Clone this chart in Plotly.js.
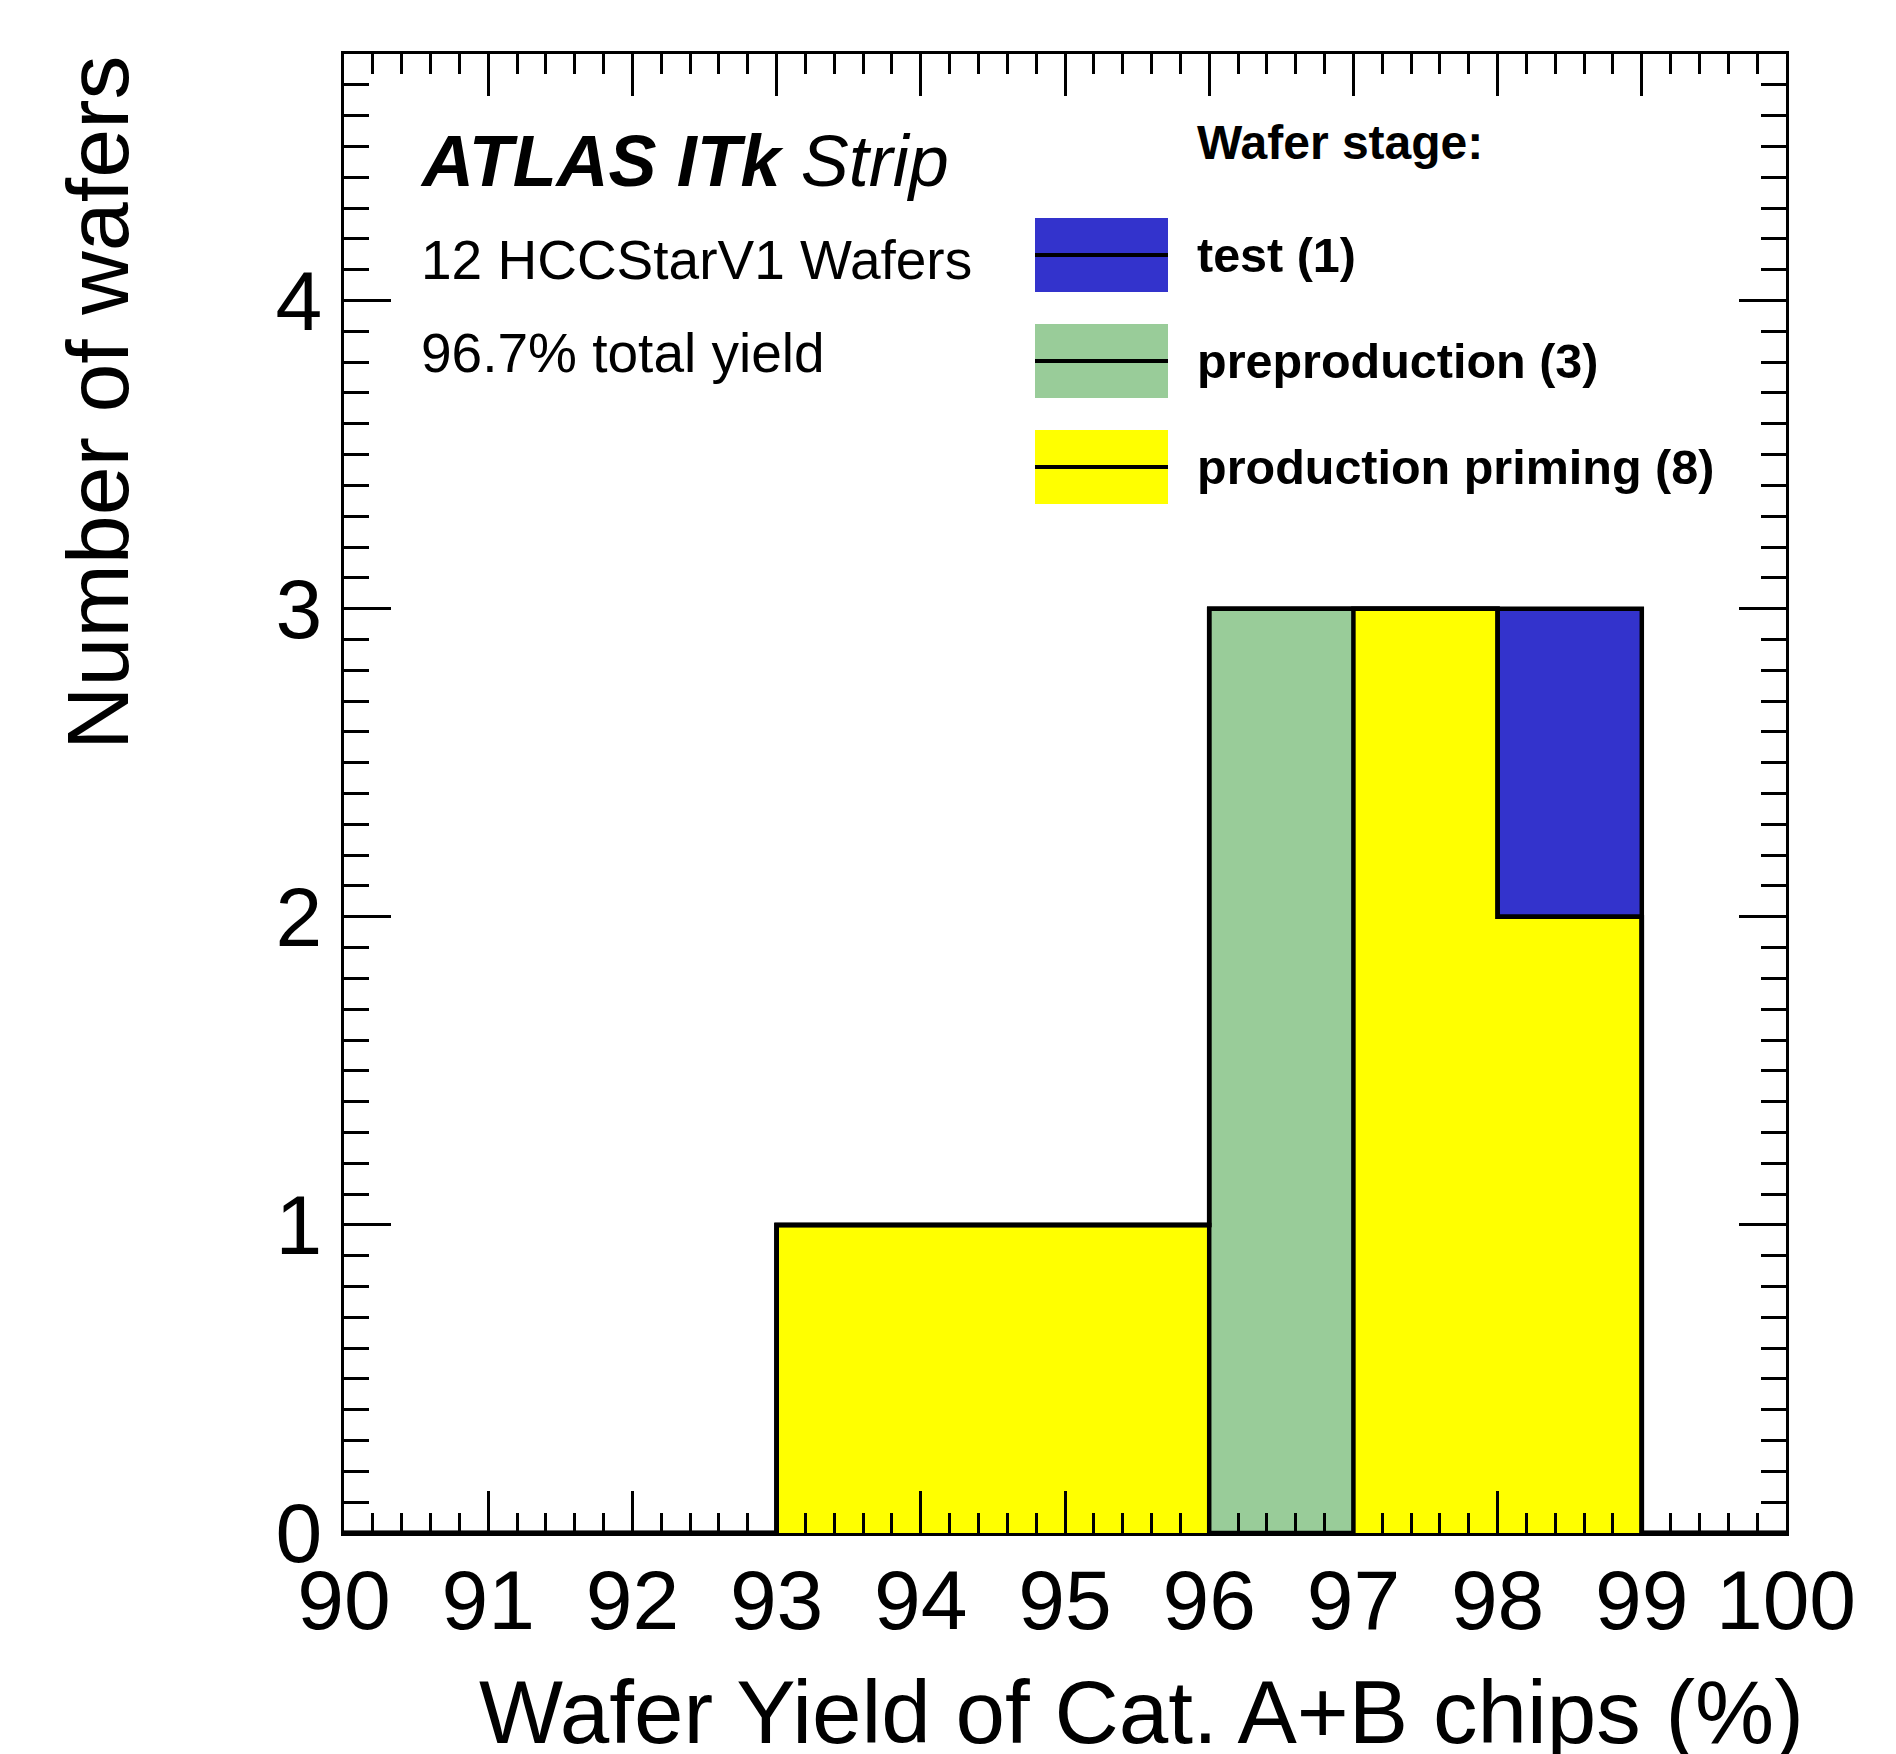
<!DOCTYPE html>
<html>
<head>
<meta charset="utf-8">
<script src="https://cdn.plot.ly/plotly-3.0.1.min.js"></script>
<style>html,body{margin:0;padding:0;background:#fff;}</style>
</head>
<body>
<div id="chart" style="width:1896px;height:1754px;"></div>
<script>
// ---- data (bin edges 90..100, width 1) ----
const binEdges = [90, 91, 92, 93, 94, 95, 96, 97, 98, 99, 100];
const stageNames = ["production priming", "preproduction", "test"]; // stacking order bottom -> top
const stageColors = ["#ffff00", "#99cc99", "#3333cc"];
const countsProductionPriming = [0, 0, 0, 1, 1, 1, 0, 3, 2, 0];
const countsPreproduction     = [0, 0, 0, 0, 0, 0, 3, 0, 0, 0];
const countsTest              = [0, 0, 0, 0, 0, 0, 0, 0, 1, 0];
const xTickValues = [90, 91, 92, 93, 94, 95, 96, 97, 98, 99, 100];
const yTickValues = [0, 1, 2, 3, 4];
const atlasLabel = "<b><i>ATLAS ITk</i></b> <i>Strip</i>";
const infoLines = ["12 HCCStarV1 Wafers", "96.7% total yield"];
const legendTitle = "Wafer stage:";
const xTitle = "Wafer Yield of Cat. A+B chips (%)";
const yTitle = "Number of wafers";

const stageCounts = [countsProductionPriming, countsPreproduction, countsTest];
const centers = binEdges.slice(0, -1).map((e, i) => (e + binEdges[i + 1]) / 2);

const traces = [];
// filled stacked bars
stageCounts.forEach((c, k) => {
  traces.push({
    type: "bar", x: centers, y: c, width: 1, name: stageNames[k],
    marker: {color: stageColors[k], line: {width: 0}},
    showlegend: false, hoverinfo: "skip"
  });
});
// step outlines of each cumulative stack (like ROOT THStack HIST)
let cum = new Array(centers.length).fill(0);
stageCounts.forEach((c, k) => {
  cum = cum.map((v, i) => v + c[i]);
  traces.push({
    type: "scatter", mode: "lines", x: binEdges, y: cum.concat([cum[cum.length - 1]]),
    line: {shape: "hv", color: "#000", width: 4.5},
    showlegend: false, hoverinfo: "skip", cliponaxis: false
  });
});

const font = "Liberation Sans, Arial, Helvetica, sans-serif";
const W = 1896, H = 1754;
const mL = 344, mR = 110, mT = 54, mB = 221;
const pw = W - mL - mR, ph = H - mT - mB;
const px = x => (x - mL) / pw;         // pixel -> paper x
const py = y => (H - mB - y) / ph;     // pixel -> paper y

const annotations = [];
const shapes = [];
annotations.push({xref: "paper", yref: "paper", x: px(418), y: py(161), xanchor: "left", yanchor: "middle",
  text: atlasLabel, showarrow: false, font: {family: font, size: 72, color: "#000"}});
infoLines.forEach((t, i) => {
  annotations.push({xref: "paper", yref: "paper", x: px(419), y: py([260, 353][i]), xanchor: "left", yanchor: "middle",
    text: t, showarrow: false, font: {family: font, size: 55, color: "#000"}});
});
annotations.push({xref: "paper", yref: "paper", x: px(1195), y: py(143), xanchor: "left", yanchor: "middle",
  text: "<b>" + legendTitle + "</b>", showarrow: false, font: {family: font, size: 48, color: "#000"}});

// legend entries, top -> bottom: test, preproduction, production priming
const legendOrder = [2, 1, 0];
const boxTop = [218, 324, 430];
legendOrder.forEach((k, j) => {
  const y0 = boxTop[j], y1 = boxTop[j] + 74, ym = (y0 + y1) / 2;
  shapes.push({type: "rect", xref: "paper", yref: "paper", x0: px(1035), x1: px(1168), y0: py(y1), y1: py(y0),
    fillcolor: stageColors[k], line: {width: 0}});
  shapes.push({type: "line", xref: "paper", yref: "paper", x0: px(1035), x1: px(1168), y0: py(ym), y1: py(ym),
    line: {color: "#000", width: 4}});
  const total = stageCounts[k].reduce((a, b) => a + b, 0);
  annotations.push({xref: "paper", yref: "paper", x: px(1195), y: py(ym), xanchor: "left", yanchor: "middle",
    text: "<b>" + stageNames[k] + " (" + total + ")</b>", showarrow: false, font: {family: font, size: 48.5, color: "#000"}});
});

// axis titles (ROOT style: right/top aligned)
annotations.push({xref: "paper", yref: "paper", x: px(1806), y: py(1712), xanchor: "right", yanchor: "middle",
  text: xTitle, showarrow: false, font: {family: font, size: 89, color: "#000"}});
annotations.push({xref: "paper", yref: "paper", x: px(97), y: py(54), xanchor: "center", yanchor: "top", textangle: -90,
  text: yTitle, showarrow: false, font: {family: font, size: 88, color: "#000"}});

const axisCommon = {
  showline: true, linecolor: "#000", linewidth: 3, mirror: "ticks",
  ticks: "inside", tickcolor: "#000", tickwidth: 3,
  showgrid: false, zeroline: false, fixedrange: true,
  tickfont: {family: font, size: 84, color: "#000"}
};

const layout = {
  width: W, height: H,
  margin: {l: mL, r: mR, t: mT, b: mB, pad: 0},
  paper_bgcolor: "#fff", plot_bgcolor: "#fff",
  barmode: "stack", bargap: 0, showlegend: false,
  xaxis: Object.assign({}, axisCommon, {
    range: [90, 100], tickmode: "array", tickvals: xTickValues, ticktext: xTickValues.map(String),
    ticklen: 42, ticklabelstandoff: -8,
    minor: {dtick: 0.2, ticks: "inside", ticklen: 20, tickwidth: 3, tickcolor: "#000", showgrid: false}
  }),
  yaxis: Object.assign({}, axisCommon, {
    range: [0, 4.8], tickmode: "array", tickvals: yTickValues, ticktext: yTickValues.map(String),
    ticklen: 47, ticklabelstandoff: 2,
    minor: {dtick: 0.1, ticks: "inside", ticklen: 25, tickwidth: 3, tickcolor: "#000", showgrid: false}
  }),
  shapes: shapes, annotations: annotations
};

Plotly.newPlot("chart", traces, layout, {staticPlot: true, displayModeBar: false});
</script>
</body>
</html>
